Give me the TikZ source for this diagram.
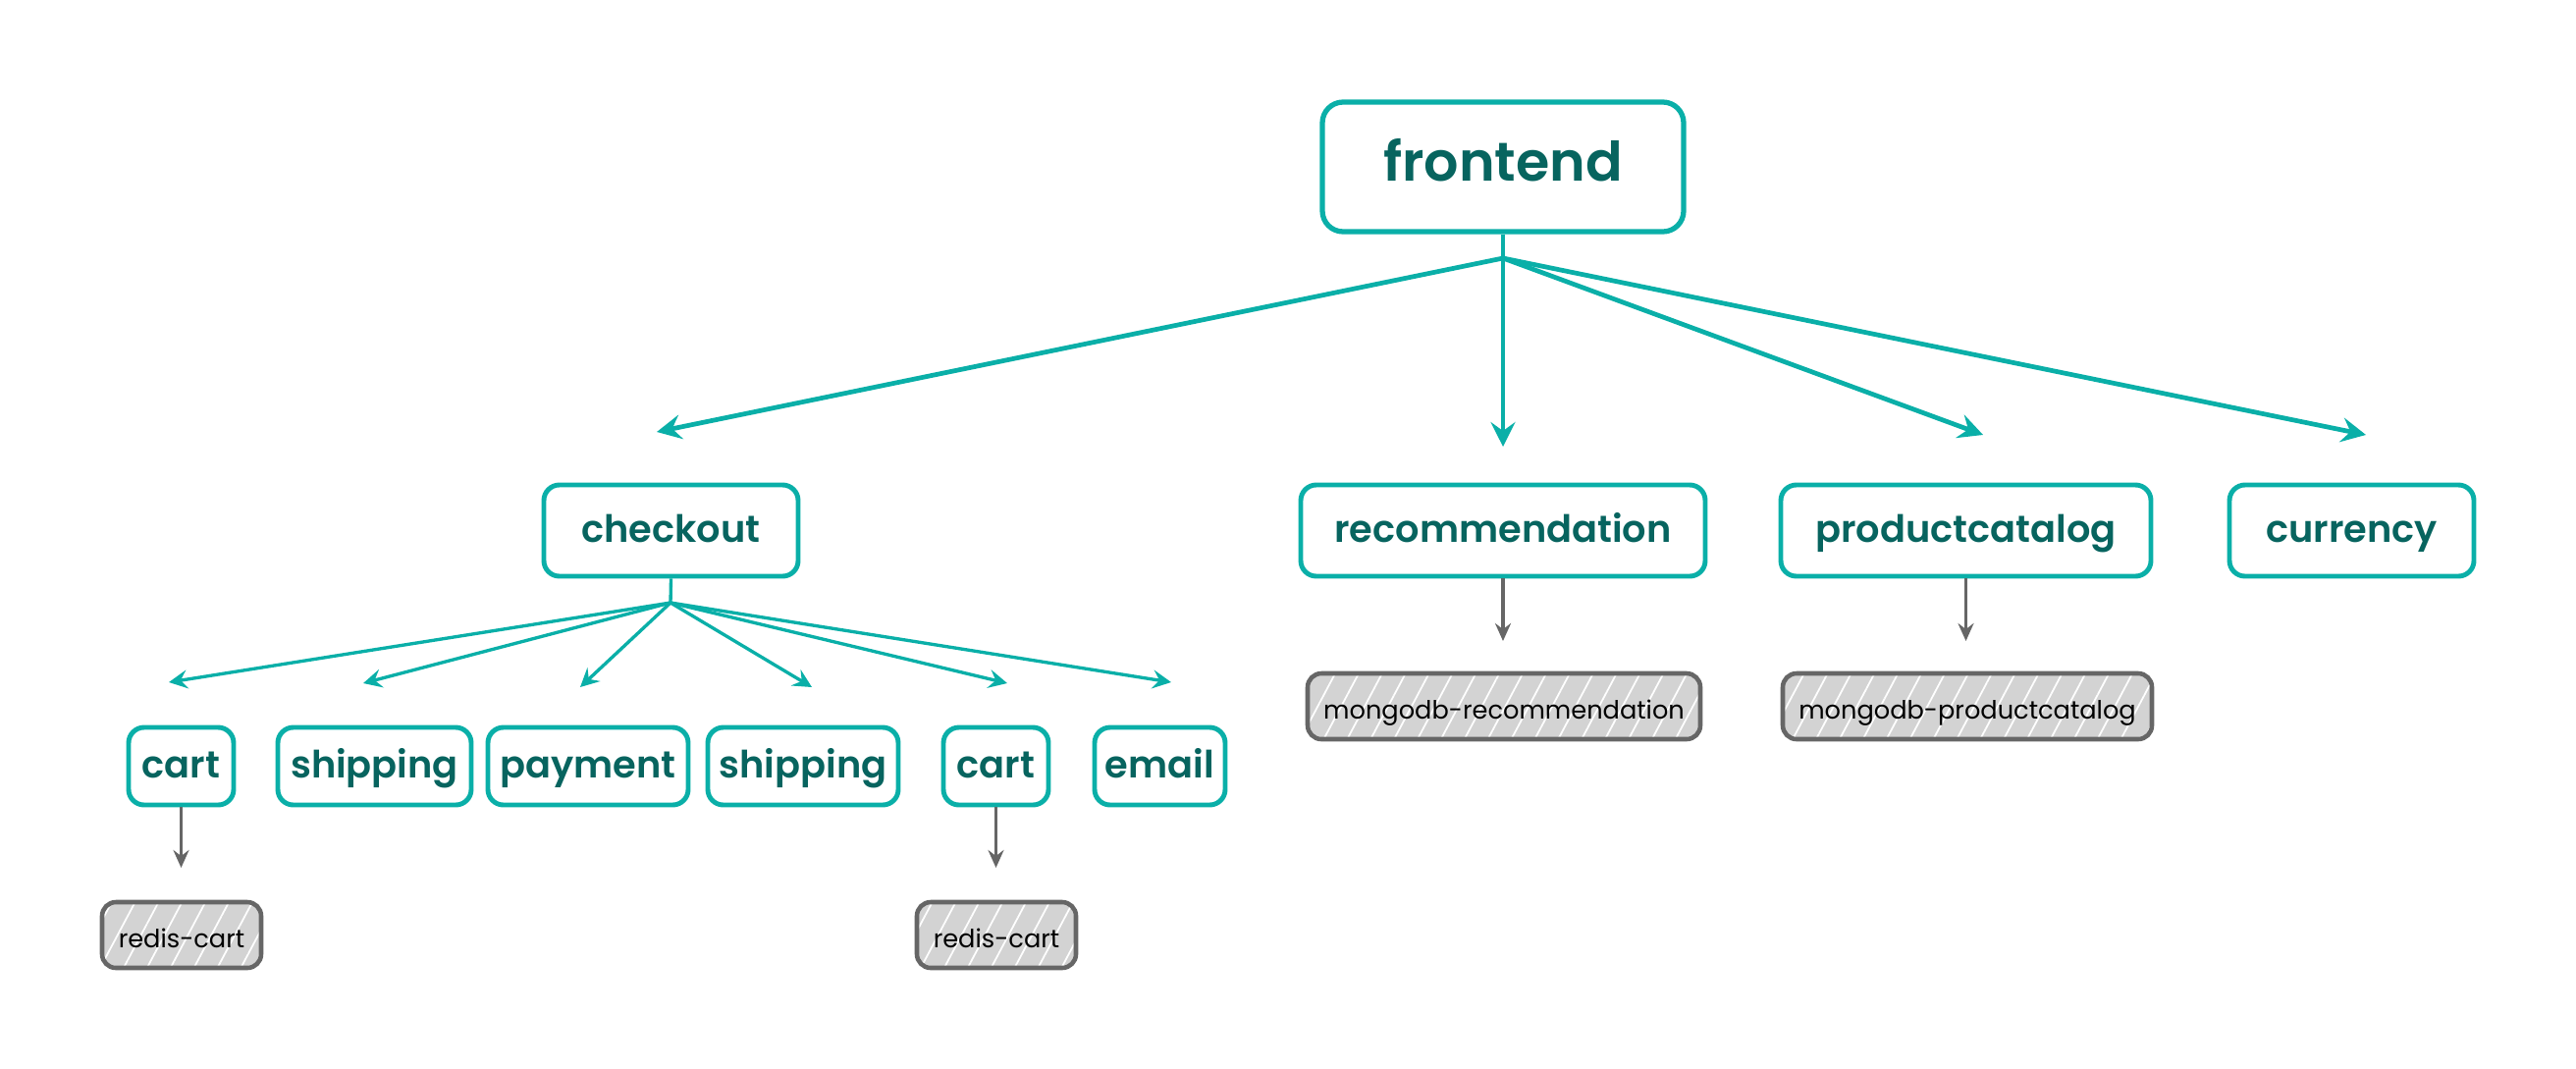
\documentclass[tikz,border=0pt]{standalone}
\usepackage{fontspec}
\setmainfont{Poppins}
\newfontfamily\semifont{Poppins SemiBold}
\usetikzlibrary{arrows.meta, positioning, patterns.meta}
\definecolor{svcLine}{HTML}{0AAFA8}
\definecolor{svcText}{HTML}{07645F}
\definecolor{dbFill}{HTML}{D3D3D3}
\definecolor{dbLine}{HTML}{666666}
\tikzset{
  arrowT/.style={-{Stealth[length=2.5mm, width=2.5mm, inset=0.9mm]}, svcLine, line width=1.35pt},
  arrowS/.style={-{Stealth[length=1.9mm, width=1.9mm, inset=0.7mm]}, svcLine, line width=0.95pt},
  arrowG/.style={-{Stealth[length=1.8mm, width=1.6mm, inset=0.6mm]}, dbLine, line width=0.9pt},
  boxTop/.style={rectangle, rounded corners=6pt, draw=svcLine, line width=1.5pt, fill=white,
                 text=svcText, font=\semifont\fontsize{15.8}{18}\selectfont,
                 text height=1.02em, text depth=0.2em, inner sep=0pt,
                 minimum width=3.68cm, minimum height=1.32cm},
  boxSvc/.style={rectangle, rounded corners=4.5pt, draw=svcLine, line width=1.4pt, fill=white,
                 text=svcText, font=\semifont\fontsize{10.9}{12}\selectfont,
                 text height=0.9em, text depth=0.2em, inner sep=0pt, minimum height=0.93cm},
  boxSub/.style={boxSvc, minimum height=0.79cm},
  boxDb/.style={rectangle, rounded corners=4pt, draw=dbLine, line width=1.3pt,
                preaction={fill=dbFill}, pattern={Lines[angle=62, distance=6pt, line width=0.5pt]},
                pattern color=white, font=\fontsize{7.3}{9}\selectfont,
                text height=0.95em, text depth=0.2em, inner sep=0pt, minimum height=0.67cm},
}
\begin{document}
\begin{tikzpicture}
    \useasboundingbox (0,0) rectangle (26.24,-10.88);
    %% top: frontend and its calls
    \node[boxTop] (fe) at (15.31,-1.70) {frontend};
    \coordinate (feFan) at (15.31,-2.63);
    \coordinate (feToCk) at (6.69,-4.40);
    \coordinate (feToRec) at (15.31,-4.55);
    \coordinate (feToPc) at (20.20,-4.43);
    \coordinate (feToCur) at (24.10,-4.43);
    \draw[svcLine, line width=1.35pt] (fe.south) -- (feFan);
    \draw[arrowT] (feFan) -- (feToCk); \draw[arrowT] (feFan) -- (feToRec);
    \draw[arrowT] (feFan) -- (feToPc); \draw[arrowT] (feFan) -- (feToCur);

    %% row 2
    \node[boxSvc, minimum width=2.59cm] (ck) at (6.835,-5.405) {checkout};
    \node[boxSvc, minimum width=4.12cm] (rec) at (15.31,-5.405) {recommendation};
    \node[boxSvc, minimum width=3.77cm] (pc) at (20.025,-5.405) {productcatalog};
    \node[boxSvc, minimum width=2.49cm] (cur) at (23.955,-5.405) {currency};

    %% row 3: checkout calls
    \node[boxSub, minimum width=1.07cm] (cartA) at (1.845,-7.805) {cart};
    \node[boxSub, minimum width=1.97cm] (shipA) at (3.815,-7.805) {shipping};
    \node[boxSub, minimum width=2.04cm] (pay) at (5.99,-7.805) {payment};
    \node[boxSub, minimum width=1.94cm] (shipB) at (8.18,-7.805) {shipping};
    \node[boxSub, minimum width=1.07cm] (cartB) at (10.145,-7.805) {cart};
    \node[boxSub, minimum width=1.33cm] (mail) at (11.815,-7.805) {email};
    \coordinate (ckFan) at (6.83,-6.14);
    \draw[svcLine, line width=0.95pt] (ck.south) -- (ckFan);
    \foreach \tx/\ty in {1.72/-6.95, 3.70/-6.96, 5.91/-7.00, 8.27/-7.00, 10.26/-6.96, 11.93/-6.95}
      \draw[arrowS] (ckFan) -- (\tx,\ty);

    %% datastores
    \node[boxDb, minimum width=1.62cm] (redisA) at (1.85,-9.525) {redis-cart};
    \node[boxDb, minimum width=1.62cm] (redisB) at (10.15,-9.525) {redis-cart};
    \node[boxDb, minimum width=4.00cm] (mgRec) at (15.32,-7.195) {mongodb-recommendation};
    \node[boxDb, minimum width=3.76cm] (mgPc) at (20.04,-7.195) {mongodb-productcatalog};
    \coordinate (toRedisA) at (1.845,-8.84);
    \coordinate (toRedisB) at (10.145,-8.84);
    \coordinate (toMgRec) at (15.31,-6.53);
    \coordinate (toMgPc) at (20.025,-6.53);
    \draw[arrowG] (cartA.south) -- (toRedisA); \draw[arrowG] (cartB.south) -- (toRedisB);
    \draw[arrowG] (rec.south) -- (toMgRec); \draw[arrowG] (pc.south) -- (toMgPc);
  \end{tikzpicture}
\end{document}
